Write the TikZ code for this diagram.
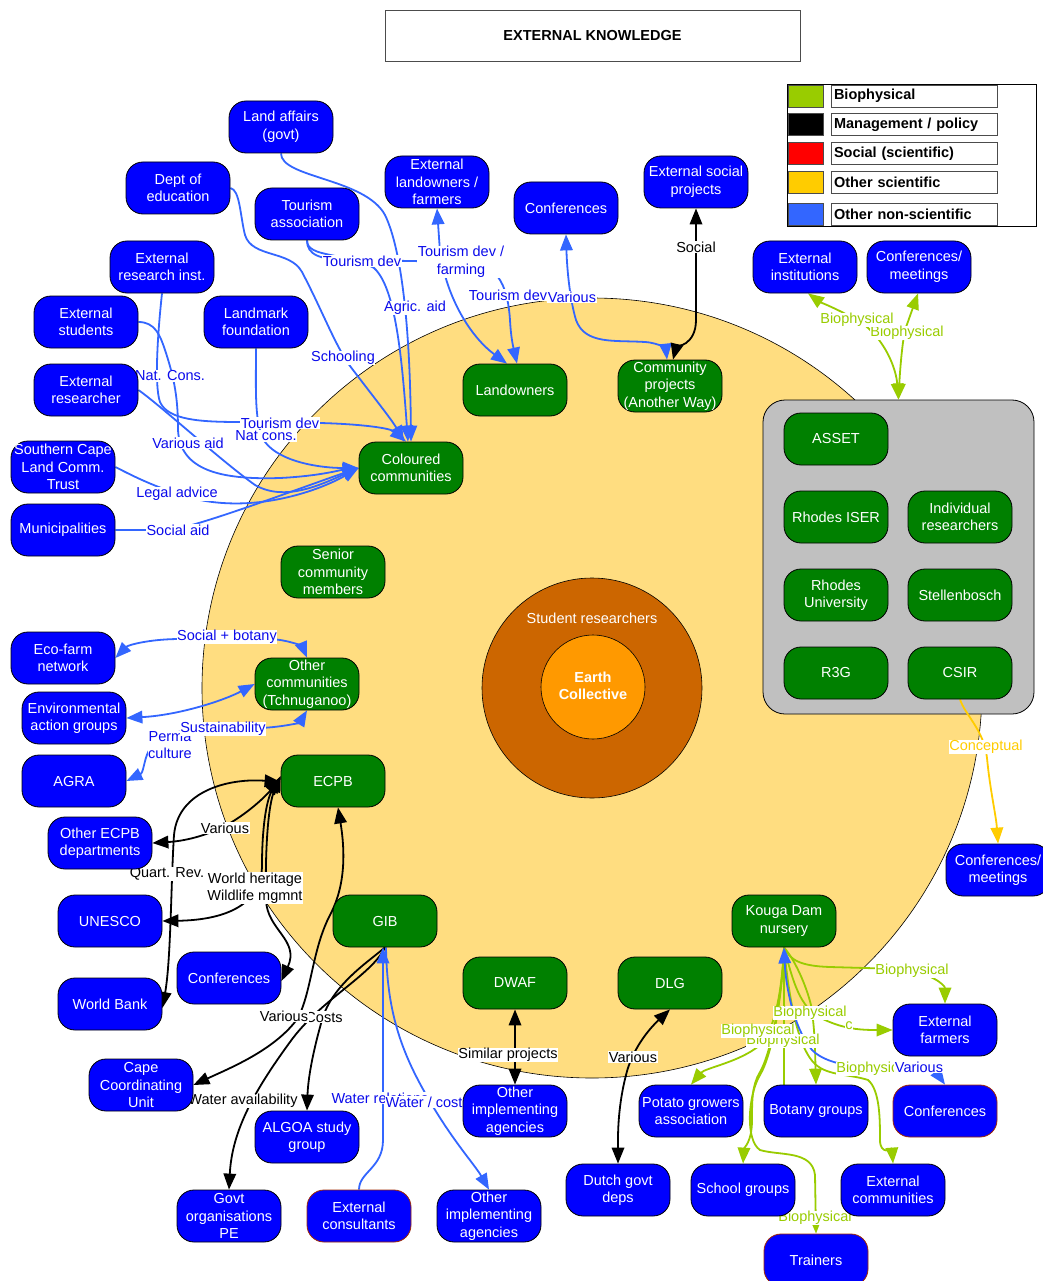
\documentclass[tikz,border=0pt]{standalone}
\usepackage{fontspec}
\setmainfont{Liberation Sans}
\usetikzlibrary{arrows.meta}
\newcommand\dgfont{\fontsize{14.5}{17.5}\selectfont}
\newcommand\dgbold{\fontsize{14.5}{17.5}\selectfont\bfseries}
\definecolor{extblue}{RGB}{0,0,255}
\definecolor{intgreen}{RGB}{0,128,0}
\definecolor{eblue}{RGB}{51,102,255}
\definecolor{labblue}{RGB}{10,10,235}
\definecolor{egreen}{RGB}{153,204,0}
\definecolor{eyellow}{RGB}{255,204,0}
\definecolor{zonefill}{RGB}{255,221,128}
\definecolor{ringfill}{RGB}{204,102,0}
\definecolor{corefill}{RGB}{255,153,0}
\definecolor{panelfill}{RGB}{192,192,192}
\definecolor{edgered}{RGB}{160,40,0}
\pgfdeclarelayer{zone}
\pgfdeclarelayer{links}
\pgfdeclarelayer{tags}
\pgfsetlayers{zone,links,tags,main}
\tikzset{
  extn/.style={draw=black, line width=0.8pt, fill=extblue, rounded corners=17pt,
    minimum width=104pt, minimum height=52pt, inner sep=0pt, text=white,
    align=center, font=\dgfont},
  intn/.style={extn, fill=intgreen},
  redrim/.style={draw=edgered},
  link/.style={line width=1.8pt, >={Triangle[length=16pt,width=12.5pt]}},
  bluelink/.style={link, draw=eblue},
  blacklink/.style={link, draw=black},
  greenlink/.style={link, draw=egreen},
  yellowlink/.style={link, draw=eyellow},
  tag/.style={fill=white, inner sep=0.6pt, align=center, font=\dgfont},
  btag/.style={tag, text=labblue},
  ktag/.style={tag, text=black},
  gtag/.style={tag, text=egreen},
  ytag/.style={tag, text=eyellow},
  swatch/.style={draw=black!70, line width=0.6pt, minimum width=35pt, minimum height=22pt, inner sep=0pt},
  legtext/.style={draw=black!70, line width=0.6pt, minimum width=166pt, minimum height=22pt,
    text width=160pt, align=left, inner sep=3pt, font=\dgbold}
}
\begin{document}
\begin{tikzpicture}[x=1pt,y=-1pt]
\useasboundingbox (0,0) rectangle (1042,1281);

% ---------- background: zone circles and research panel ----------
\begin{pgfonlayer}{zone}
  \fill[white] (0,0) rectangle (1042,1281);
  \draw[fill=zonefill, line width=0.6pt] (592,688) circle (390pt);
  \draw[fill=ringfill, line width=0.6pt] (592,688) circle (110pt);
  \draw[fill=corefill, line width=0.6pt] (593,687) circle (52pt);
  \node[text=white, font=\dgfont] (stud) at (592,618) {Student researchers};
  \node[text=white, font=\dgbold, align=center] (earth) at (593,686) {Earth\\Collective};
  \node[draw=black, line width=0.8pt, fill=panelfill, rounded corners=22pt,
        minimum width=271pt, minimum height=314pt] (gp) at (898.5,557) {};
\end{pgfonlayer}

% ---------- title and legend ----------
\node[draw=black!70, line width=0.6pt, minimum width=415pt, minimum height=51pt, font=\dgbold] (title) at (592.5,35.5) {EXTERNAL KNOWLEDGE};
\draw[line width=0.8pt] (787,84) rectangle (1036,226);
\node[swatch, fill=egreen] (sw1) at (805.5,96) {};
\node[swatch, fill=black] (sw2) at (805.5,124.5) {};
\node[swatch, fill=red] (sw3) at (805.5,153.5) {};
\node[swatch, fill=eyellow] (sw4) at (805.5,182) {};
\node[swatch, fill=eblue] (sw5) at (805.5,214) {};
\node[legtext] (lg1) at (914,96) {Biophysical};
\node[legtext] (lg2) at (914,124.5) {Management / policy};
\node[legtext] (lg3) at (914,153.5) {Social (scientific)};
\node[legtext] (lg4) at (914,182) {Other scientific};
\node[legtext] (lg5) at (914,214) {Other non-scientific};

% ---------- external actors ----------
\node[extn] (la) at (281,127) {Land affairs\\(govt)};
\node[extn] (de) at (178,188) {Dept of\\education};
\node[extn] (ta) at (307,214) {Tourism\\association};
\node[extn] (el) at (437,182) {External\\landowners /\\farmers};
\node[extn] (cf1) at (566,208) {Conferences};
\node[extn] (esp) at (696,182) {External social\\projects};
\node[extn] (eri) at (162,267) {External\\research inst.};
\node[extn] (es) at (86,322) {External\\students};
\node[extn] (lm) at (256,322) {Landmark\\foundation};
\node[extn] (er) at (86,390) {External\\researcher};
\node[extn] (sc) at (63,467) {Southern Cape\\Land Comm.\\Trust};
\node[extn] (mu) at (63,530) {Municipalities};
\node[extn] (ef) at (63,658) {Eco-farm\\network};
\node[extn] (ea) at (74,718) {Environmental\\action groups};
\node[extn] (ag) at (74,781) {AGRA};
\node[extn] (oe) at (100,843) {Other ECPB\\departments};
\node[extn] (un) at (110,921) {UNESCO};
\node[extn] (cfl) at (229,978) {Conferences};
\node[extn] (wb) at (110,1004) {World Bank};
\node[extn] (cc) at (141,1085) {Cape\\Coordinating\\Unit};
\node[extn] (al) at (307,1137) {ALGOA study\\group};
\node[extn] (go) at (229,1216) {Govt\\organisations\\PE};
\node[extn, redrim] (ec) at (359,1216) {External\\consultants};
\node[extn] (oi1) at (515,1111) {Other\\implementing\\agencies};
\node[extn] (oi2) at (489,1216) {Other\\implementing\\agencies};
\node[extn] (du) at (618,1190) {Dutch govt\\deps};
\node[extn] (pg) at (691,1111) {Potato growers\\association};
\node[extn] (sg) at (743,1190) {School groups};
\node[extn] (bg) at (816,1111) {Botany groups};
\node[extn] (xc) at (893,1190) {External\\communities};
\node[extn, redrim] (tr) at (816,1260) {Trainers};
\node[extn, redrim] (cf3) at (945,1111) {Conferences};
\node[extn] (ef2) at (945,1030) {External\\farmers};
\node[extn] (cm2) at (998,870) {Conferences/\\meetings};
\node[extn] (ei) at (805,267) {External\\institutions};
\node[extn] (cm1) at (919,267) {Conferences/\\meetings};

% ---------- actors inside the zone ----------
\node[intn] (ld) at (515,390) {Landowners};
\node[intn] (cp) at (670,386) {Community\\projects\\(Another Way)};
\node[intn] (col) at (411,468) {Coloured\\communities};
\node[intn] (sn) at (333,572) {Senior\\community\\members};
\node[intn] (oc) at (307,684) {Other\\communities\\(Tchnuganoo)};
\node[intn] (ecpb) at (333,781) {ECPB};
\node[intn] (gib) at (385,921) {GIB};
\node[intn] (dw) at (515,983) {DWAF};
\node[intn] (dl) at (670,983) {DLG};
\node[intn] (ko) at (784,921) {Kouga Dam\\nursery};
\node[intn] (asset) at (836,439) {ASSET};
\node[intn] (riser) at (836,517) {Rhodes ISER};
\node[intn] (ir) at (960,517) {Individual\\researchers};
\node[intn] (ru) at (836,595) {Rhodes\\University};
\node[intn] (st) at (960,595) {Stellenbosch};
\node[intn] (r3g) at (836,673) {R3G};
\node[intn] (csir) at (960,673) {CSIR};

% ---------- connectors ----------
\begin{pgfonlayer}{links}
  % into Coloured communities
  \draw[bluelink,->] (la.south) .. controls (281,178) and (365,178) .. (385,215) .. controls (402,250) and (410,330) .. (col.north);
  \draw[bluelink,->] (ta.south) .. controls (307,258) and (345,252) .. (374,268) .. controls (396,288) and (402,360) .. ([xshift=-3pt]col.north);
  \draw[bluelink,->] (de.east) .. controls (240,190) and (240,215) .. (245,235) .. controls (252,258) and (290,250) .. (302,272) .. controls (322,310) and (335,345) .. (350,366) .. controls (372,395) and (392,420) .. ([xshift=-7pt]col.north);
  \draw[bluelink,->] (eri.south) .. controls (158,330) and (154,385) .. (160,402) .. controls (168,420) and (200,422) .. (240,422) -- (320,423) .. controls (360,424) and (390,428) .. ([xshift=-5pt]col.north);
  \draw[bluelink,->] (es.east) .. controls (155,322) and (160,335) .. (165,350) .. controls (175,380) and (178,400) .. (178,430) .. controls (180,470) and (220,480) .. (280,478) .. controls (320,476) and (340,470) .. (col.west);
  \draw[bluelink,->] (er.east) .. controls (160,405) and (220,460) .. (255,485) .. controls (285,502) and (320,485) .. (col.west);
  \draw[bluelink,->] (lm.south) .. controls (256,390) and (254,425) .. (265,442) .. controls (280,462) and (320,468) .. (col.west);
  \draw[bluelink,->] (sc.east) .. controls (135,477) and (160,490) .. (200,500) .. controls (260,512) and (320,490) .. (col.west);
  \draw[bluelink,->] (mu.east) -- (170,530) .. controls (200,526) and (300,488) .. (col.west);
  % Landowners and community projects
  \draw[bluelink,->] (ta.south) .. controls (307,255) and (320,260) .. (350,260) -- (470,262) .. controls (500,265) and (508,290) .. (510,320) .. controls (511,340) and (514,350) .. ([xshift=2pt]ld.north);
  \draw[bluelink,<->] (el.south) -- (440,252) .. controls (447,300) and (472,338) .. ([xshift=-8pt]ld.north);
  \draw[bluelink,<->] (cf1.south) .. controls (567,270) and (570,300) .. (576,320) .. controls (585,345) and (615,340) .. (645,342) .. controls (660,343) and (666,350) .. ([xshift=-3pt]cp.north);
  \draw[blacklink,<->] (esp.south) -- (696,320) .. controls (696,345) and (676,348) .. ([xshift=3pt]cp.north);
  % Other communities
  \draw[bluelink,<->] (ef.east) .. controls (128,645) and (150,639) .. (180,639) -- (270,639) .. controls (292,640) and (303,648) .. (oc.north);
  \draw[bluelink,<->] (ea.east) .. controls (180,715) and (225,700) .. (oc.west);
  \draw[bluelink,<->] (ag.east) .. controls (145,772) and (143,750) .. (158,740) .. controls (170,732) and (185,730) .. (205,729) -- (260,728) .. controls (285,727) and (300,722) .. (oc.south);
  % ECPB
  \draw[blacklink,<->] ([yshift=2pt]ecpb.west) .. controls (262,800) and (245,815) .. (225,826) .. controls (205,836) and (185,841) .. (oe.east);
  \draw[blacklink,<->] ([yshift=-1pt]ecpb.west) .. controls (230,778) and (178,790) .. (174,835) .. controls (171,880) and (171,960) .. ([yshift=-4pt]wb.east);
  \draw[blacklink,<->] ([yshift=4pt]ecpb.west) .. controls (266,800) and (262,830) .. (262,865) .. controls (262,905) and (225,920) .. (un.east);
  \draw[blacklink,<->] ([yshift=5pt]ecpb.west) .. controls (268,805) and (265,850) .. (266,900) .. controls (267,930) and (300,940) .. ([yshift=-3pt]cfl.east);
  \draw[blacklink,<->] ([xshift=5pt]ecpb.south) .. controls (345,850) and (346,885) .. (330,915) .. controls (312,950) and (312,990) .. (298,1018) .. controls (275,1050) and (230,1068) .. (cc.east);
  % GIB
  \draw[blacklink,->] (gib.south) .. controls (368,962) and (332,985) .. (322,1020) .. controls (312,1055) and (308,1080) .. (al.north);
  \draw[blacklink,->] (gib.south) .. controls (372,975) and (320,1000) .. (290,1042) .. controls (255,1090) and (232,1130) .. (go.north);
  \draw[bluelink,->] (ec.north) .. controls (359,1172) and (383,1168) .. (383,1140) -- ([xshift=-2pt]gib.south);
  \draw[bluelink,->] ([xshift=1pt]gib.south) .. controls (387,1010) and (400,1050) .. (428,1098) .. controls (452,1140) and (475,1165) .. (oi2.north);
  % DWAF and DLG
  \draw[blacklink,<->] (dw.south) -- (oi1.north);
  \draw[blacklink,<->] (dl.south) .. controls (648,1030) and (632,1050) .. (626,1075) .. controls (617,1110) and (618,1140) .. (du.north);
  % research panel
  \draw[greenlink,<->] (gp.north) .. controls (896,368) and (885,340) .. (862,323) .. controls (840,310) and (820,302) .. ([xshift=3pt]ei.south);
  \draw[greenlink,<->] (gp.north) .. controls (900,370) and (902,345) .. (905,330) -- ([xshift=-1pt]cm1.south);
  \draw[yellowlink,->] (csir.south) .. controls (965,715) and (984,730) .. (987,758) .. controls (990,790) and (996,815) .. (cm2.north);
  % Kouga Dam nursery
  \draw[greenlink,->] (ko.south) .. controls (790,960) and (800,966) .. (830,967) -- (900,969) .. controls (930,972) and (945,985) .. (ef2.north);
  \draw[greenlink,->] (ko.south) .. controls (795,990) and (802,1010) .. (825,1020) .. controls (845,1029) and (860,1030) .. (ef2.west);
  \draw[greenlink,->] (ko.south) .. controls (782,990) and (775,1030) .. (760,1045) .. controls (740,1062) and (705,1068) .. (pg.north);
  \draw[greenlink,->] (ko.south) .. controls (782,1000) and (770,1055) .. (760,1072) .. controls (752,1085) and (752,1100) .. (752,1120) .. controls (752,1142) and (744,1148) .. (sg.north);
  \draw[greenlink,->] (ko.south) .. controls (782,1000) and (772,1055) .. (760,1075) .. controls (748,1095) and (745,1140) .. (760,1150) .. controls (780,1156) and (812,1150) .. (815,1175) -- (tr.north);
  \draw[greenlink] (ko.south) -- (ko.south |- bg.north);
  \draw[greenlink,->] (ko.south) .. controls (795,960) and (806,985) .. (811,1005) .. controls (815,1030) and (815,1050) .. (bg.north);
  \draw[greenlink,->] (ko.south) .. controls (790,1010) and (800,1050) .. (815,1064) .. controls (828,1076) and (850,1074) .. (868,1080) .. controls (880,1090) and (880,1120) .. (880,1140) .. controls (880,1155) and (892,1150) .. (xc.north);
  \draw[bluelink,<->] (ko.south) .. controls (786,990) and (795,1030) .. (812,1050) .. controls (830,1068) and (870,1068) .. (900,1068) .. controls (920,1068) and (936,1072) .. (cf3.north);
\end{pgfonlayer}

% ---------- connector labels ----------
\begin{pgfonlayer}{tags}
  \node[btag] (t1) at (362,261) {Tourism dev};
  \node[btag] (t2) at (415,308) {Agric. aid};
  \node[btag] (t3) at (461,262) {Tourism dev /\\farming};
  \node[btag] (t4) at (508,295) {Tourism dev};
  \node[btag] (t5) at (572,297) {Various};
  \node[btag] (t6) at (343,358) {Schooling};
  \node[btag] (t7) at (170,376) {Nat. Cons.};
  \node[btag] (t8) at (280,423) {Tourism dev};
  \node[btag] (t9) at (266,436) {Nat cons.};
  \node[btag] (t10) at (188,443) {Various aid};
  \node[btag] (t11) at (177,494) {Legal advice};
  \node[btag] (t12) at (178,530) {Social aid};
  \node[btag] (t13) at (227,637) {Social + botany};
  \node[btag] (t14) at (170,745) {Perma\\culture};
  \node[btag] (t15) at (223,729) {Sustainability};
  \node[btag] (t16) at (380,1098) {Water relations};
  \node[btag] (t17) at (424,1102) {Water / cost};
  \node[ktag] (k1) at (696,247) {Social};
  \node[ktag] (k2) at (225,828) {Various};
  \node[ktag] (k3) at (167,874) {Quart. Rev.};
  \node[ktag] (k4) at (255,888) {World heritage\\Wildlife mgmnt};
  \node[ktag] (k5) at (324,1017) {Costs};
  \node[ktag] (k6) at (284,1016) {Various};
  \node[ktag] (k7) at (243,1101) {Water availability};
  \node[ktag] (k8) at (508,1055) {Similar projects};
  \node[ktag] (k9) at (633,1057) {Various};
  \node[gtag] (g1) at (907,333) {Biophysical};
  \node[gtag] (g2) at (857,320) {Biophysical};
  \node[gtag] (g3) at (912,971) {Biophysical};
  \node[gtag] (g4) at (783,1041) {Biophysical};
  \node[gtag] (g5) at (758,1031) {Biophysical};
  \node[gtag] (g6) at (810,1013) {Biophysical};
  \node[gtag] (g7) at (849,1026) {c};
  \node[gtag] (g8) at (873,1069) {Biophysical};
  \node[btag] (t18) at (919,1067) {Various};
  \node[gtag] (g9) at (815,1218) {Biophysical};
  \node[ytag] (y1) at (986,747) {Conceptual};
\end{pgfonlayer}
\end{tikzpicture}
\end{document}
